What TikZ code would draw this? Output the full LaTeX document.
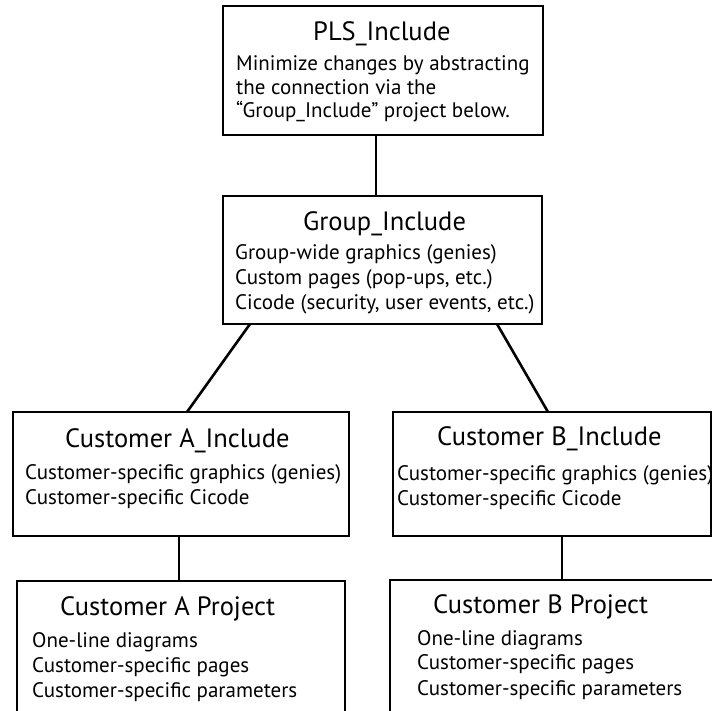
\documentclass[tikz,border=0pt]{standalone}
\usepackage{fontspec}
\setmainfont{PT Sans}
\usetikzlibrary{calc}
\begin{document}
\begin{tikzpicture}[x=1pt,y=-1pt,
  box/.style={draw, line width=2.6pt, rectangle, inner sep=0pt, outer sep=0pt, anchor=north west},
  ttl/.style={anchor=base west, font=\fontsize{26.5}{30}\selectfont, inner sep=0pt},
  txt/.style={anchor=base west, font=\fontsize{21}{25}\selectfont, inner sep=0pt},
  conn/.style={line width=2.6pt}]
\useasboundingbox (0,0) rectangle (712,710);
\clip (0,0) rectangle (712,710);
% boxes
\node[box, minimum width=320pt, minimum height=129pt] (pls) at (223,6) {};
\node[box, minimum width=319pt, minimum height=128pt] (grp) at (223,196) {};
\node[box, minimum width=336pt, minimum height=124pt] (ainc) at (13,412) {};
\node[box, minimum width=318pt, minimum height=124pt] (binc) at (393,412) {};
\node[box, minimum width=328pt, minimum height=160pt] (aproj) at (17,581) {};
\node[box, minimum width=330pt, minimum height=160pt] (bproj) at (390,580) {};
% texts
\node[ttl] (plst) at (313,40) {PLS\_Include};
\node[txt] (pls1) at (236,70) {Minimize changes by abstracting};
\node[txt] (pls2) at (236,94) {the connection via the};
\node[txt] (pls3) at (236,117) {“Group\_Include” project below.};
\node[ttl] (grpt) at (303,230) {Group\_Include};
\node[txt] (grp1) at (235,259) {Group-wide graphics (genies)};
\node[txt] (grp2) at (235,284) {Custom pages (pop-ups, etc.)};
\node[txt] (grp3) at (235,309) {Cicode (security, user events, etc.)};
\node[ttl] (ainct) at (65,447) {Customer A\_Include};
\node[txt] (ainc1) at (25,479) {Customer-specific graphics (genies)};
\node[txt] (ainc2) at (25,504) {Customer-specific Cicode};
\node[ttl] (binct) at (437,445) {Customer B\_Include};
\node[txt] (binc1) at (397,480) {Customer-specific graphics (genies)};
\node[txt] (binc2) at (397,505) {Customer-specific Cicode};
\node[ttl] (aprojt) at (60,615) {Customer A Project};
\node[txt] (aproj1) at (32,647) {One-line diagrams};
\node[txt] (aproj2) at (32,672) {Customer-specific pages};
\node[txt] (aproj3) at (32,697) {Customer-specific parameters};
\node[ttl] (bprojt) at (433,613) {Customer B Project};
\node[txt] (bproj1) at (417,645) {One-line diagrams};
\node[txt] (bproj2) at (417,669) {Customer-specific pages};
\node[txt] (bproj3) at (417,695) {Customer-specific parameters};
% connectors
\coordinate (ga) at (250,324);
\coordinate (gb) at (497,324);
\coordinate (ax) at (179,0);
\coordinate (bx) at (562,0);
\draw[conn] (pls.south -| 376,0) -- (grp.north -| 376,0);
\draw[conn] (ga) -- ($(ainc.north)+(6,0)$);
\draw[conn] (gb) -- ($(binc.north)+(-4,0)$);
\draw[conn] (ainc.south -| ax) -- (aproj.north -| ax);
\draw[conn] (binc.south -| bx) -- (bproj.north -| bx);
\end{tikzpicture}
\end{document}
